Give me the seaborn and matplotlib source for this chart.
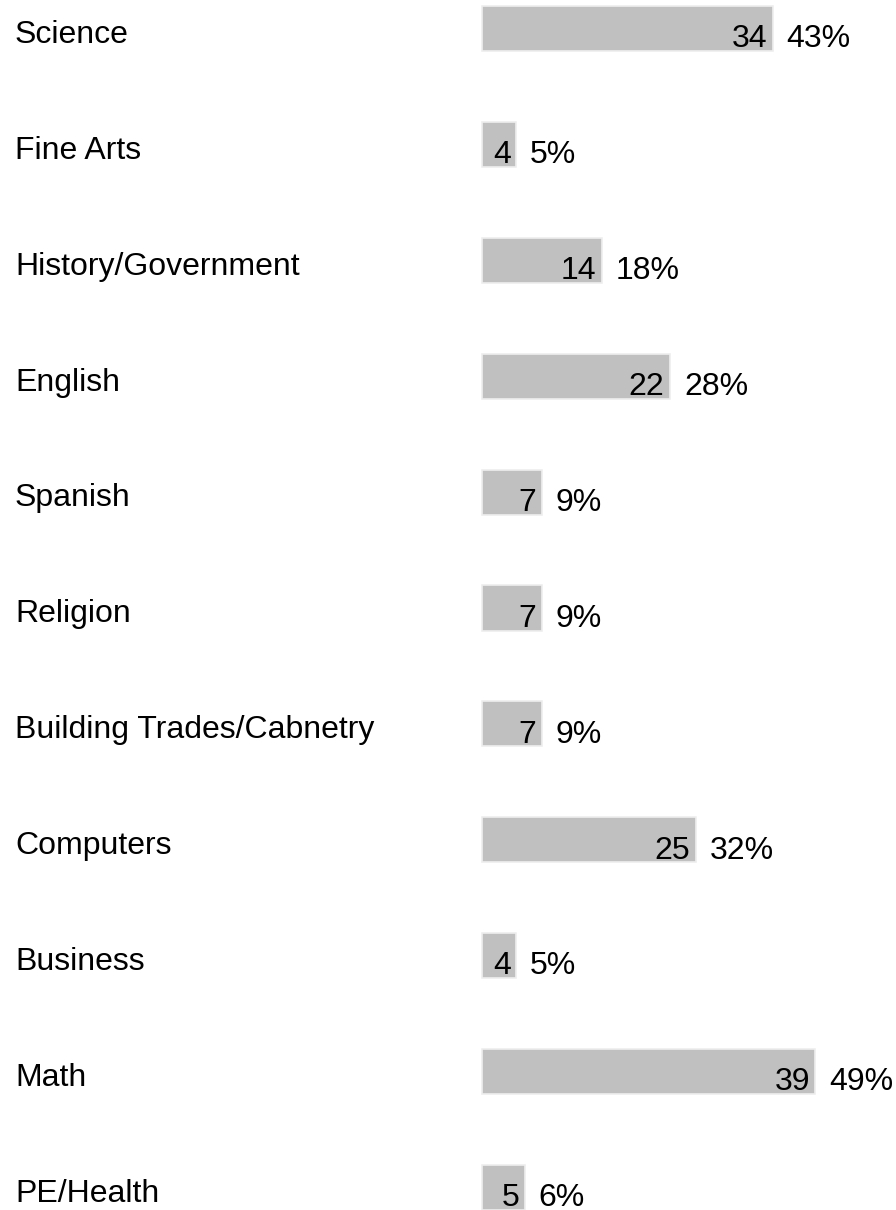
import matplotlib
matplotlib.use("Agg")
import matplotlib.pyplot as plt
import matplotlib.transforms as mtransforms
import seaborn as sns
import pandas as pd

# survey answers
subjects = ["Science", "Fine Arts", "History/Government", "English", "Spanish",
            "Religion", "Building Trades/Cabnetry", "Computers", "Business",
            "Math", "PE/Health"]
counts = [34, 4, 14, 22, 7, 7, 7, 25, 4, 39, 5]
percents = [43, 5, 18, 28, 9, 9, 9, 32, 5, 49, 6]

df = pd.DataFrame({"subject": subjects, "count": counts, "pct": percents})

sns.set_style("white")
plt.rcParams["font.family"] = ["Liberation Sans", "DejaVu Sans"]

fig = plt.figure(figsize=(8.96, 12.1), dpi=100)
ax = fig.add_axes([0, 0, 1, 1])

sns.barplot(data=df, x="count", y="subject", orient="h", color="#c0c0c0",
            saturation=1, width=0.39, edgecolor="#eeeeee", linewidth=1.2, ax=ax)

ax.set_xlim(-482 / 8.55, (896 - 482) / 8.55)
ax.set_ylim(10 + 22.5 / 115.7, -28.5 / 115.7)
ax.axis("off")

fs = 23
trans = mtransforms.blended_transform_factory(ax.transAxes, ax.transData)
for i, row in df.iterrows():
    ax.annotate(row["subject"], (15 / 896, i), xycoords=trans, xytext=(0, -10.3),
                textcoords="offset points", ha="left", va="baseline",
                fontsize=fs, color="black")
    ax.annotate(str(row["count"]), (row["count"], i), xytext=(-4, -13.5),
                textcoords="offset points", ha="right", va="baseline",
                fontsize=fs, color="black")
    ax.annotate(f"{row['pct']}%", (row["count"], i), xytext=(10, -13.5),
                textcoords="offset points", ha="left", va="baseline",
                fontsize=fs, color="black")

fig.savefig("out.png", dpi=100)
